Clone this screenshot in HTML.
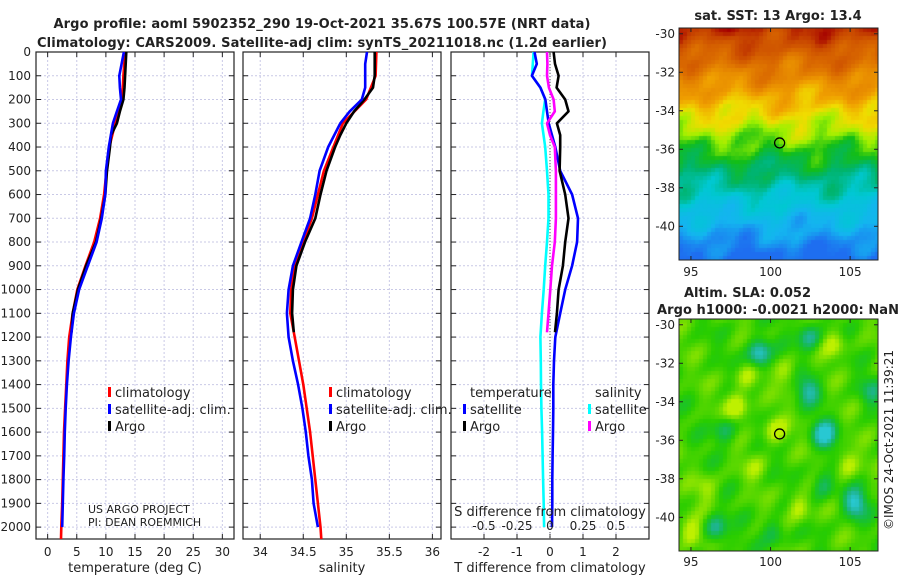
<!DOCTYPE html>
<html><head><meta charset="utf-8"><style>
html,body{margin:0;padding:0;background:#fff;width:900px;height:580px;overflow:hidden}
svg text{font-family:"DejaVu Sans","Liberation Sans",sans-serif;fill:#222}
canvas{position:absolute}
</style></head><body>
<svg id="chart" width="900" height="580" style="position:absolute;left:0;top:0">
<text x="322" y="28" text-anchor="middle" font-size="13" font-weight="bold" textLength="537">Argo profile: aoml 5902352_290 19-Oct-2021 35.67S 100.57E (NRT data)</text>
<text x="322" y="47" text-anchor="middle" font-size="13" font-weight="bold" textLength="570">Climatology: CARS2009. Satellite-adj clim: synTS_20211018.nc (1.2d earlier)</text>
<text x="778" y="20" text-anchor="middle" font-size="13" font-weight="bold">sat. SST: 13 Argo: 13.4</text>
<text x="684" y="297" font-size="13" font-weight="bold">Altim. SLA: 0.052</text>
<text x="657" y="314" font-size="13" font-weight="bold" textLength="242">Argo h1000: -0.0021 h2000: NaN</text>
<text transform="translate(893,440) rotate(-90)" text-anchor="middle" font-size="12">©IMOS 24-Oct-2021 11:39:21</text>
<g id="g"></g>
</svg>
<canvas id="sst" width="199" height="232" style="left:679px;top:28px"></canvas>
<canvas id="sla" width="199" height="232" style="left:679px;top:319px"></canvas>
<svg id="ov" width="900" height="580" style="position:absolute;left:0;top:0"></svg>
<script>
// ---- data ----
const climDepth=[0,100,200,300,400,500,600,700,800,900,1000,1100,1200,1300,1400,1500,1600,1700,1800,1900,2000,2050];
const tempClim=[13.3,13.0,12.8,11.6,10.6,10.1,9.7,9.0,8.0,6.5,5.1,4.3,3.7,3.4,3.2,3.0,2.8,2.7,2.6,2.5,2.35,2.3];
const salClim=[35.35,35.34,35.23,34.96,34.85,34.74,34.67,34.60,34.50,34.40,34.36,34.35,34.40,34.45,34.50,34.54,34.58,34.61,34.64,34.67,34.70,34.71];
const satDepth=[0,50,100,150,200,250,300,400,500,600,700,800,900,1000,1100,1200,1300,1400,1500,1600,1700,1800,1900,2000];
const tempSat=[13.1,12.7,12.3,12.4,12.6,11.9,11.2,10.5,10.0,9.9,9.3,8.4,6.9,5.4,4.5,4.0,3.6,3.3,3.1,2.95,2.85,2.7,2.6,2.5];
const salSat=[35.24,35.22,35.22,35.22,35.18,35.04,34.93,34.79,34.69,34.64,34.58,34.48,34.38,34.33,34.31,34.33,34.38,34.44,34.49,34.53,34.56,34.60,34.62,34.67];
const argoDepth=[0,50,100,150,200,250,300,350,400,500,600,700,800,900,1000,1100,1180];
const tempArgo=[13.5,13.4,13.3,13.2,13.0,12.4,11.9,10.9,10.7,10.2,9.9,9.2,8.3,6.6,5.2,4.3,4.1];
const salArgo=[35.33,35.33,35.33,35.31,35.21,35.09,35.00,34.93,34.87,34.77,34.70,34.64,34.52,34.42,34.38,34.37,34.39];
const tDiffSat=[-0.47,-0.40,-0.55,-0.29,-0.14,-0.09,-0.04,0.16,0.31,0.67,0.85,0.82,0.67,0.46,0.31,0.16,0.12,0.10,0.10,0.09,0.08,0.07,0.07,0.06];
const sDiffSat=[-0.124,-0.13,-0.136,-0.073,-0.036,-0.05,-0.061,-0.036,-0.023,-0.011,-0.011,-0.023,-0.036,-0.048,-0.061,-0.073,-0.07,-0.068,-0.065,-0.06,-0.056,-0.052,-0.048,-0.045];
const tDiffArgo=[0.11,0.15,0.26,0.20,0.46,0.56,0.21,0.31,0.31,0.29,0.46,0.56,0.46,0.39,0.26,0.21,0.15];
const sDiffArgo=[-0.023,-0.02,-0.023,-0.008,0.027,0.036,-0.023,0.0,0.036,0.045,0.045,0.045,0.036,0.015,0.002,-0.011,-0.023];
const depthTicks=[0,100,200,300,400,500,600,700,800,900,1000,1100,1200,1300,1400,1500,1600,1700,1800,1900,2000];
const tempTicks=[0,5,10,15,20,25,30];
const salTicks=[34,34.5,35,35.5,36];
const salTickLabels=["34","34.5","35","35.5","36"];
const tdTicks=[-2,-1,0,1,2];
const sdTicks=[-0.5,-0.25,0,0.25,0.5];
const sdTickLabels=["-0.5","-0.25","0","0.25","0.5"];

const NS="http://www.w3.org/2000/svg";
const g=document.getElementById('g');
function el(t,a,p){const e=document.createElementNS(NS,t);for(const k in a)e.setAttribute(k,a[k]);(p||g).appendChild(e);return e;}
const TOP=52,BOT=539,DMAX=2050;
const yD=d=>TOP+d/DMAX*(BOT-TOP);
function mkX(l,r,a,b){return v=>l+(v-a)/(b-a)*(r-l);}
const panels=[
 {l:36,r:234,x:mkX(36,234,-2,32),ticks:tempTicks,labels:tempTicks.map(String),title:"temperature (deg C)",name:"temperature"},
 {l:243,r:441,x:mkX(243,441,33.8,36.1),ticks:salTicks,labels:salTickLabels,title:"salinity",name:"salinity"},
 {l:451,r:649,x:mkX(451,649,-3,3),ticks:tdTicks,labels:tdTicks.map(String),title:"T difference from climatology",name:"difference"}];
panels.forEach((p,i)=>{
  const pg=el('g',{});
  
  
  depthTicks.forEach(d=>{
    const y=yD(d);
    el('line',{x1:p.l,x2:p.r,y1:y,y2:y,stroke:'#c9c9e6','stroke-dasharray':'2,2','stroke-width':1},pg);
    el('line',{x1:p.l,x2:p.l+5,y1:y,y2:y,stroke:'#222'},pg);
    el('line',{x1:p.r-5,x2:p.r,y1:y,y2:y,stroke:'#222'},pg);
    if(i===0){const t=el('text',{x:31,y:y+4,'text-anchor':'end','font-size':12},pg);t.textContent=d;
      }
  });
  p.ticks.forEach((v,k)=>{
    const x=p.x(v);
    el('line',{x1:x,x2:x,y1:TOP,y2:BOT,stroke:'#c9c9e6','stroke-dasharray':'2,2'},pg);
    el('line',{x1:x,x2:x,y1:TOP,y2:TOP+5,stroke:'#222'},pg);
    el('line',{x1:x,x2:x,y1:BOT-5,y2:BOT,stroke:'#222'},pg);
    const t=el('text',{x:x,y:556,'text-anchor':'middle','font-size':12},pg);t.textContent=p.labels[k];
    
  });
  el('rect',{x:p.l,y:TOP,width:p.r-p.l,height:BOT-TOP,fill:'none',stroke:'#222','stroke-width':1.2},pg);
  const t=el('text',{x:(p.l+p.r)/2,y:572,'text-anchor':'middle','font-size':13},pg);t.textContent=p.title;
  
});
function line(xs,ds,xf,color,name,w){
  const pts=xs.map((v,i)=>xf(v).toFixed(1)+','+yD(ds[i]).toFixed(1)).join(' ');
  const e=el('polyline',{points:pts,fill:'none',stroke:color,'stroke-width':w||2.6,'stroke-linejoin':'round'});
  
  
}
const P=panels;
line(tempClim,climDepth,P[0].x,'#ff0000','temp-climatology-line');
line(tempArgo,argoDepth,P[0].x,'#000','temp-argo-line');
line(tempSat,satDepth,P[0].x,'#0000ff','temp-satellite-line');
line(salClim,climDepth,P[1].x,'#ff0000','sal-climatology-line');
line(salArgo,argoDepth,P[1].x,'#000','sal-argo-line');
line(salSat,satDepth,P[1].x,'#0000ff','sal-satellite-line');
const sx=mkX(451,649,-0.75,0.75);
el('line',{x1:P[2].x(0),x2:P[2].x(0),y1:TOP,y2:BOT,stroke:'#555','stroke-dasharray':'1,2'});
line(sDiffSat,satDepth,sx,'#00ffff','sdiff-satellite-line');
line(tDiffSat,satDepth,P[2].x,'#0000ff','tdiff-satellite-line');
line(sDiffArgo,argoDepth,sx,'#ff00ff','sdiff-argo-line');
line(tDiffArgo,argoDepth,P[2].x,'#000','tdiff-argo-line');
sdTicks.forEach((v,k)=>{const t=el('text',{x:sx(v),y:530,'text-anchor':'middle','font-size':12});t.textContent=sdTickLabels[k];
  });
{const t=el('text',{x:550,y:516,'text-anchor':'middle','font-size':13});t.textContent='S difference from climatology';
 }
function leg(x,y,c,txt,name){
  el('rect',{x:x-2,y:y-10,width:3,height:10,fill:c});
  const t=el('text',{x:x+5,y:y,'font-size':13});t.textContent=txt;
  
}
[110,331].forEach(x=>{
  leg(x,397,'#ff0000','climatology','legend-climatology');
  leg(x,414,'#0000ff','satellite-adj. clim.','legend-satellite-adj');
  leg(x,431,'#000','Argo','legend-argo');
});
{const t=el('text',{x:470,y:397,'font-size':13});t.textContent='temperature';}
{const t=el('text',{x:595,y:397,'font-size':13});t.textContent='salinity';}
leg(465,414,'#0000ff','satellite','legend-t-satellite');
leg(465,431,'#000','Argo','legend-t-argo');
leg(590,414,'#00ffff','satellite','legend-s-satellite');
leg(590,431,'#ff00ff','Argo','legend-s-argo');
{const t=el('text',{x:88,y:513,'font-size':11});t.textContent='US ARGO PROJECT';}
{const t=el('text',{x:88,y:526,'font-size':11});t.textContent='PI: DEAN ROEMMICH';}

// ---- maps ----
const LON0=94.25,LON1=106.75,LAT0=-29.7,LAT1=-41.75;
function noise(a,b){return Math.sin(a*1.7+b*0.9)*0.5+Math.sin(a*3.1-b*2.3+1)*0.3+Math.sin(a*6.3+b*5.1+2)*0.2+Math.sin(a*11.7-b*9.3)*0.12;}
function smooth(a,b){return Math.sin(a*1.1+b*0.7)*0.5+Math.sin(a*2.3-b*1.7+1)*0.35+Math.sin(a*0.6-b*2.9+2)*0.3;}
function rgb(c){return 'rgb('+c.join(',')+')';}
function lerpC(stops,v){
  if(v<=stops[0][0])return stops[0][1];
  for(let i=1;i<stops.length;i++){if(v<=stops[i][0]){const[a,ca]=stops[i-1],[b,cb]=stops[i];const t=(v-a)/(b-a);return ca.map((c,k)=>Math.round(c+(cb[k]-c)*t));}}
  return stops[stops.length-1][1];
}
const sstStops=[[10,[30,110,240]],[10.8,[20,180,240]],[11.6,[0,200,210]],[12.2,[0,180,110]],[12.8,[20,190,20]],[13.3,[160,240,0]],[13.8,[240,220,0]],[14.4,[240,160,0]],[15.2,[220,110,0]],[15.9,[200,70,0]],[16.5,[165,0,0]]];
function drawMap(id,fn,cs){
  const c=document.getElementById(id).getContext('2d');
  for(let y=0;y<232;y+=cs)for(let x=0;x<199;x+=cs){
    const lon=LON0+(x+cs/2)/199*(LON1-LON0),lat=LAT0+(y+cs/2)/232*(LAT1-LAT0);
    c.fillStyle=fn(lon,lat);c.fillRect(x,y,cs,cs);
  }
}
drawMap('sst',(lon,lat)=>{
  let t=9.9+(lat+41.7)*0.52+smooth(lon*1.2,lat*1.3)*0.45+noise(lon*2,lat*2)*0.1;
  t+=0.9*Math.exp(-((lon-104.8)**2/2.5+(lat-38.6)**2/1.5));
  return rgb(lerpC(sstStops,t));
},4);
const slaStops=[[-1,[40,200,210]],[-0.6,[30,180,140]],[-0.3,[20,190,60]],[0,[40,205,0]],[0.3,[110,220,0]],[0.6,[190,240,0]]];
const bumps=[[99.3,-31.5,-1.1],[102.4,-30.6,-0.8],[103.4,-35.7,-1.2],[102.4,-33.4,-0.8],[105.3,-39.3,-1.1],[96.6,-40.6,-0.8],[97.1,-35.5,-0.6],[103.3,-38.3,-0.6],[100.2,-40.8,-0.5],[106.3,-33.5,-0.5],
 [97.9,-34.3,0.7],[100.3,-35.5,0.6],[101.8,-39.5,0.6],[95,-40.8,0.7],[104.8,-37.2,0.6],[99,-37.4,0.3],[104,-31,0.5],[101,-32.5,0.4],[98.5,-32.8,0.5],[96,-38.5,0.4]];
drawMap('sla',(lon,lat)=>{
  let v=0.1+smooth(lon*1.4+3,lat*1.3)*0.25;
  bumps.forEach(b=>{const d=((lon-b[0])**2+(lat-b[1])**2);v+=b[2]*Math.exp(-d/0.5);});
  return rgb(lerpC(slaStops,v));
},4);
const ov=document.getElementById('ov');
function mapAxes(top,h,lonLabY,name){
  const xL=v=>679+(v-LON0)/(LON1-LON0)*199, yL=v=>top+(v-LAT0)/(LAT1-LAT0)*h;
  el('rect',{x:679,y:top,width:199,height:h,fill:'none',stroke:'#222'},ov);
  [95,100,105].forEach(v=>{const x=xL(v);el('line',{x1:x,x2:x,y1:top+h-4,y2:top+h,stroke:'#222'},ov);el('line',{x1:x,x2:x,y1:top,y2:top+4,stroke:'#222'},ov);
    const t=el('text',{x:x,y:lonLabY,'text-anchor':'middle','font-size':12},ov);t.textContent=v;});
  [-30,-32,-34,-36,-38,-40].forEach(v=>{const y=yL(v);el('line',{x1:679,x2:683,y1:y,y2:y,stroke:'#222'},ov);el('line',{x1:874,x2:878,y1:y,y2:y,stroke:'#222'},ov);
    const t=el('text',{x:675,y:y+4,'text-anchor':'end','font-size':12},ov);t.textContent=v;});
  const c=el('circle',{cx:xL(100.57),cy:yL(-35.67),r:5,fill:'none',stroke:'#000','stroke-width':1.3},ov);
  
}
mapAxes(28,232,276,'sst');
mapAxes(319,232,566,'sla');
</script>
</body></html>
